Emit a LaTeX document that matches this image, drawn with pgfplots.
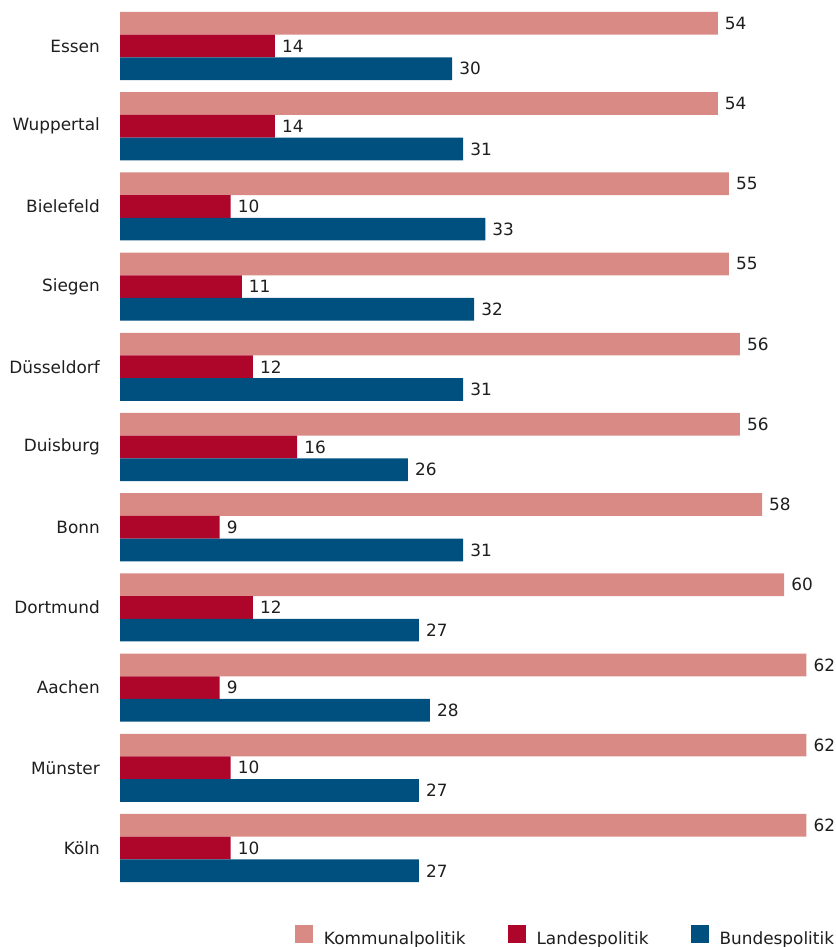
\documentclass[border=0pt]{standalone}
\usepackage{pgfplots}
\pgfplotsset{compat=1.18}
\usepackage{fontspec}
\setmainfont{DejaVu Sans}
\definecolor{komm}{HTML}{D98A84}
\definecolor{land}{HTML}{AE052B}
\definecolor{bund}{HTML}{00507F}
\definecolor{txt}{HTML}{1E1E1E}
\newcommand{\lblfont}{\fontsize{16.9bp}{20bp}\selectfont}
\begin{document}
\begin{tikzpicture}
\useasboundingbox (0,0) rectangle (836bp,947bp);
\begin{axis}[
  at={(120bp,0bp)}, anchor=south west,
  scale only axis, width=686.3bp, height=947bp,
  xmin=0, xmax=62, ymin=-0.5736, ymax=11.234, y dir=reverse,
  xbar, bar width=0.283,
  clip=false,
  axis line style={draw=none}, tick style={draw=none},
  major tick length=0pt,
  xtick=\empty,
  ytick={0,...,10},
  yticklabels={Essen,Wuppertal,Bielefeld,Siegen,Düsseldorf,Duisburg,Bonn,Dortmund,Aachen,Münster,Köln},
  yticklabel style={inner sep=0pt, anchor=east, xshift=-20bp, font=\lblfont, text=txt},
  nodes near coords,
  nodes near coords style={font=\lblfont, text=txt, inner sep=0pt, anchor=west, xshift=7bp},
  /pgf/number format/assume math mode=true,
  legend columns=3,
  legend image code/.code={\fill[#1] (0bp,-4.9bp) rectangle (18bp,13.1bp);},
  legend style={draw=none, fill=none, inner sep=0pt, outer sep=0pt,
    at={(axis description cs:1.0404,0.0015)}, anchor=south east,
    font=\lblfont, text=txt,
    nodes={inner sep=0pt},
    /tikz/every odd column/.append style={column sep=11bp},
    /tikz/every even column/.append style={column sep=42bp}},
  legend cell align=left,
]
\addplot[fill=komm, draw=none, bar shift=-0.283] coordinates {(54,0) (54,1) (55,2) (55,3) (56,4) (56,5) (58,6) (60,7) (62,8) (62,9) (62,10)};
\addplot[fill=land, draw=none, bar shift=0] coordinates {(14,0) (14,1) (10,2) (11,3) (12,4) (16,5) (9,6) (12,7) (9,8) (10,9) (10,10)};
\addplot[fill=bund, draw=none, bar shift=0.283] coordinates {(30,0) (31,1) (33,2) (32,3) (31,4) (26,5) (31,6) (27,7) (28,8) (27,9) (27,10)};
\legend{Kommunalpolitik, Landespolitik, Bundespolitik}
\end{axis}
\end{tikzpicture}
\end{document}
